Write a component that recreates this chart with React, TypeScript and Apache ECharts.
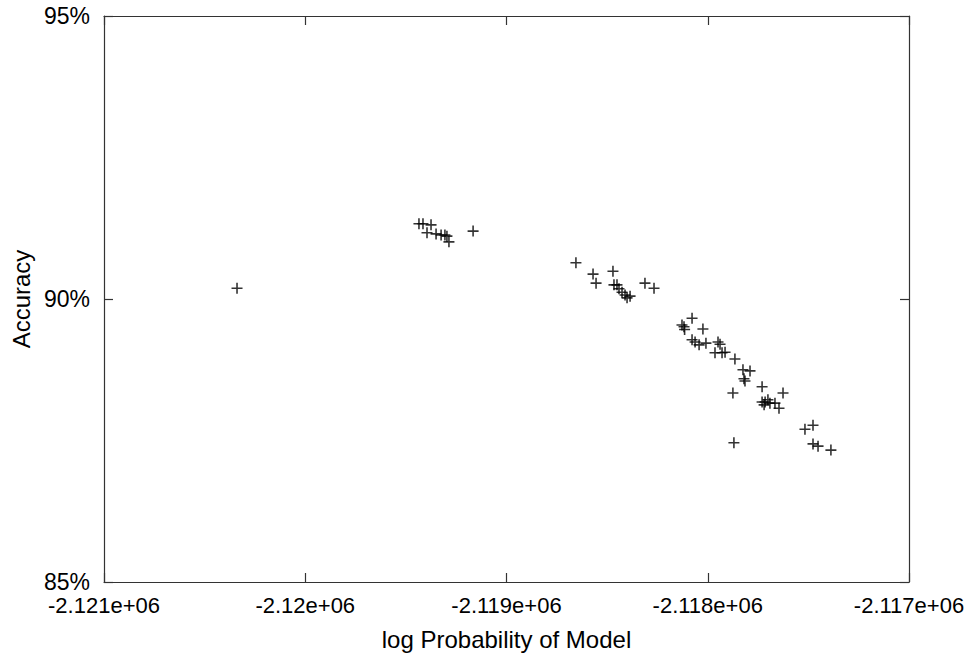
import React, { useEffect, useRef } from "react";
import * as echarts from "echarts";

// log probability of model (x) and accuracy in % (y)
const logProb = [
  -2120339,
  -2119435, -2119415, -2119375, -2119395, -2119350, -2119325, -2119306, -2119296, -2119286, -2119166,
  -2118655, -2118570, -2118555, -2118471, -2118466, -2118451, -2118441, -2118426, -2118411, -2118386, -2118401, -2118312, -2118267,
  -2118078, -2118128, -2118118, -2118115, -2118024, -2118078, -2118063, -2118043, -2118009, -2117949, -2117939, -2117964, -2117929, -2117914,
  -2117865, -2117825, -2117790, -2117820, -2117815, -2117730, -2117875, -2117626, -2117730, -2117715, -2117701, -2117691, -2117720, -2117666, -2117646, -2117870,
  -2117517, -2117477, -2117477, -2117452, -2117388,
];
const accuracy = [
  90.19,
  91.33, 91.33, 91.31, 91.17, 91.15, 91.13, 91.13, 91.11, 91.01, 91.2,
  90.64, 90.44, 90.28, 90.49, 90.25, 90.25, 90.18, 90.12, 90.07, 90.05, 90.02, 90.28, 90.19,
  89.66, 89.54, 89.51, 89.46, 89.47, 89.28, 89.24, 89.19, 89.22, 89.24, 89.2, 89.05, 89.05, 89.06,
  88.94, 88.75, 88.73, 88.59, 88.55, 88.45, 88.34, 88.34, 88.18, 88.18, 88.22, 88.16, 88.13, 88.16, 88.07, 87.46,
  87.7, 87.77, 87.44, 87.4, 87.33,
];

const xTickValues = [-2121000, -2120000, -2119000, -2118000, -2117000];
const xTickLabels = ["-2.121e+06", "-2.12e+06", "-2.119e+06", "-2.118e+06", "-2.117e+06"];
const yTickValues = [85, 90, 95];
const yTickLabels = ["85%", "90%", "95%"];

const xTitle = "log Probability of Model";
const yTitle = "Accuracy";

const FONT = "'Liberation Sans', Arial, sans-serif";
const PLUS = "path://M0,4.7H11V6.3H0ZM4.7,0H6.3V11H4.7Z";

function labelFor(values: number[], labels: string[]) {
  return (v: number) => {
    const i = values.findIndex((t) => Math.abs(t - v) < 1e-6);
    return i >= 0 ? labels[i] : "";
  };
}

export default function App() {
  const ref = useRef<HTMLDivElement>(null);
  useEffect(() => {
    if (!ref.current) return;
    const chart = echarts.init(ref.current, undefined, { renderer: "svg" });
    const axisLine = { show: true, lineStyle: { color: "#333", width: 1.2 } };
    const xCommon = {
      type: "value" as const,
      min: xTickValues[0],
      max: xTickValues[xTickValues.length - 1],
      interval: 1000,
      splitLine: { show: false },
      axisLine,
      axisTick: { show: true, inside: true, length: 9, lineStyle: { color: "#333", width: 1.2 } },
    };
    const yCommon = {
      type: "value" as const,
      min: yTickValues[0],
      max: yTickValues[yTickValues.length - 1],
      interval: 5,
      splitLine: { show: false },
      axisLine,
      axisTick: { show: true, inside: true, length: 9, lineStyle: { color: "#333", width: 1.2 } },
    };
    chart.setOption({
      animation: false,
      backgroundColor: "#fff",
      textStyle: { fontFamily: FONT },
      grid: { left: 104, right: 64, top: 16, bottom: 76, containLabel: false },
      xAxis: [
        {
          ...xCommon,
          position: "bottom",
          name: xTitle,
          nameLocation: "middle",
          nameGap: 45,
          nameTextStyle: { fontFamily: FONT, fontSize: 24, color: "#000" },
          axisLabel: {
            show: true,
            margin: 12,
            fontFamily: FONT,
            fontSize: 22,
            color: "#000",
            formatter: labelFor(xTickValues, xTickLabels),
          },
        },
        { ...xCommon, position: "top", axisLabel: { show: false } },
      ],
      yAxis: [
        {
          ...yCommon,
          position: "left",
          name: yTitle,
          nameLocation: "middle",
          nameGap: 70,
          nameRotate: 90,
          nameTextStyle: { fontFamily: FONT, fontSize: 24, color: "#000" },
          axisLabel: {
            show: true,
            margin: 14,
            fontFamily: FONT,
            fontSize: 23,
            color: "#000",
            formatter: labelFor(yTickValues, yTickLabels),
          },
        },
        { ...yCommon, position: "right", axisLabel: { show: false } },
      ],
      series: [
        {
          type: "scatter",
          xAxisIndex: 0,
          yAxisIndex: 0,
          symbol: PLUS,
          symbolSize: 11,
          itemStyle: { color: "#000" },
          data: logProb.map((x, i) => [x, accuracy[i]]),
        },
      ],
    });
    return () => chart.dispose();
  }, []);
  return (
    <div
      ref={ref}
      style={{ position: "fixed", left: 0, top: 0, width: 973, height: 658, background: "#fff" }}
    />
  );
}
